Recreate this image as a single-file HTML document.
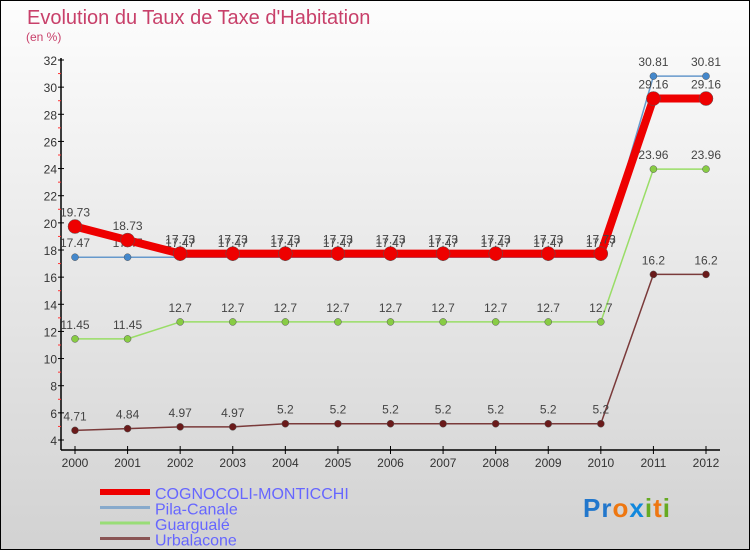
<!DOCTYPE html>
<html><head><meta charset="utf-8"><style>
body{margin:0;width:750px;height:550px;overflow:hidden;font-family:"Liberation Sans",sans-serif}
#c{position:absolute;left:0;top:0;width:748px;height:548px;border:1px solid #000;background:linear-gradient(#fdfdfd,#d2d2d2)}
</style></head><body>
<div id="c">
<svg id="s" width="750" height="550" style="position:absolute;left:-1px;top:-1px"></svg>
</div>
<script>
const years=[2000,2001,2002,2003,2004,2005,2006,2007,2008,2009,2010,2011,2012];
const cognocoli=[19.73,18.73,17.73,17.73,17.73,17.73,17.73,17.73,17.73,17.73,17.73,29.16,29.16];
const pila=[17.47,17.47,17.47,17.47,17.47,17.47,17.47,17.47,17.47,17.47,17.47,30.81,30.81];
const guargualE=[11.45,11.45,12.7,12.7,12.7,12.7,12.7,12.7,12.7,12.7,12.7,23.96,23.96];
const urbalacone=[4.71,4.84,4.97,4.97,5.2,5.2,5.2,5.2,5.2,5.2,5.2,16.2,16.2];
const yTicks=[4,6,8,10,12,14,16,18,20,22,24,26,28,30,32];
const NS="http://www.w3.org/2000/svg",svg=document.getElementById('s');
const X=i=>75+i*(706-75)/(years.length-1);
const Y=v=>440-(v-4)*(380/28);
function el(t,a,txt,p){const e=document.createElementNS(NS,t);for(const k in a)e.setAttribute(k,a[k]);if(txt!=null)e.textContent=txt;(p||svg).appendChild(e);return e;}
let e;
e=el('text',{x:27,y:24,'font-size':20,fill:'#c8406a','font-weight':'normal'},"Evolution du Taux de Taxe d'Habitation");

e=el('text',{x:26,y:41,'font-size':12,fill:'#c8406a'},"(en %)");

e=el('line',{x1:61,y1:58,x2:61,y2:450,stroke:'#000','stroke-width':1.5});

e=el('line',{x1:61,y1:450,x2:720,y2:450,stroke:'#000','stroke-width':1.5});

yTicks.forEach((v,k)=>{
 e=el('line',{x1:58,y1:Y(v),x2:64,y2:Y(v),stroke:'#000'});
 
 if(k<yTicks.length-1){
 e=el('line',{x1:58,y1:Y(v+1),x2:61,y2:Y(v+1),stroke:'#f33'});
 }
 e=el('text',{x:57,y:Y(v)+5,'font-size':12,fill:'#333','text-anchor':'end'},String(v));
 
});
years.forEach((yr,i)=>{
 e=el('line',{x1:X(i),y1:446,x2:X(i),y2:454,stroke:'#000'});
 
 e=el('text',{x:X(i),y:467,'font-size':12,fill:'#333','text-anchor':'middle'},String(yr));
 
});
function series(d,col,w,r,dot,name){
 e=el('polyline',{points:d.map((v,i)=>X(i)+','+Y(v)).join(' '),fill:'none',stroke:col,'stroke-width':w,'stroke-linejoin':'round'});
 
 d.forEach((v,i)=>{
  e=el('circle',{cx:X(i),cy:Y(v),r:r,fill:dot,stroke:'#555','stroke-width':0.5});
  
  e=el('text',{x:X(i),y:Y(v)-10,'font-size':12,fill:'#444','text-anchor':'middle'},String(v));
  
 });
}
series(urbalacone,'#7a3a3a',1.5,3.5,'#6a1a1a','urbalacone');
series(guargualE,'#99dd66',1.5,3.5,'#88cc44','guarguale');
series(pila,'#6699cc',1.5,3.5,'#4488cc','pila-canale');
series(cognocoli,'#ee0000',8,7,'#ee0000','cognocoli');
const legend=[['COGNOCOLI-MONTICCHI','#ee0000',6],['Pila-Canale','#88aacc',3],['Guargualé','#99dd77',3],['Urbalacone','#8a5555',3]];
legend.forEach((l,k)=>{
 const y=492+k*15.5;
 e=el('line',{x1:100,y1:y,x2:150,y2:y,stroke:l[1],'stroke-width':l[2]});
 
 e=el('text',{x:155,y:y+7,'font-size':16,fill:'#6666ff'},l[0]);
 
});
const logo=[['P','#2277cc'],['r','#2277cc'],['o','#ee7711'],['x','#1188dd'],['i','#66aa22'],['t','#ee7711'],['i','#66aa22']];
const lt=el('text',{x:583,y:517,'font-size':26,'font-weight':'bold','letter-spacing':1});

logo.forEach(c=>{el('tspan',{fill:c[1]},c[0],lt);});
</script>
</body></html>
